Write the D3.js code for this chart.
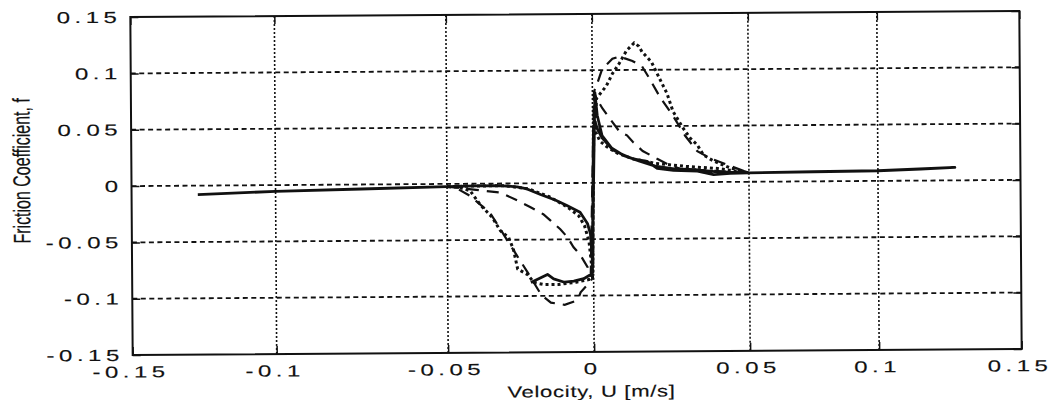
<!DOCTYPE html>
<html>
<head>
<meta charset="utf-8">
<script src="https://cdn.jsdelivr.net/npm/d3@7"></script>
<style>
  body { margin: 0; background: #fff; }
  svg text { font-family: "Liberation Sans", Arial, sans-serif; fill: #111; stroke: #111; stroke-width: 0.15px; }
</style>
</head>
<body>
<div id="chart"></div>
<script>
// ticks and labels
const xTicks = [-0.15, -0.1, -0.05, 0, 0.05, 0.1, 0.15];
const xTickLabels = ['-0.15', '-0.1', '-0.05', '0', '0.05', '0.1', '0.15'];
const yTicks = [-0.15, -0.1, -0.05, 0, 0.05, 0.1, 0.15];
const yTickLabels = ['-0.15', '-0.1', '-0.05', '0', '0.05', '0.1', '0.15'];
const xTitle = 'Velocity, U [m/s]';
const yTitle = 'Friction Coefficient, f';

// [U, f]
const solidLine = [
  [-0.127, -0.008], [-0.1, -0.0055], [-0.075, -0.004], [-0.05, -0.0025],
  [-0.04, -0.002], [-0.032, -0.0018], [-0.026, -0.003], [-0.0226, -0.005],
  [-0.018, -0.010], [-0.013, -0.015], [-0.009, -0.020], [-0.0045, -0.026],
  [-0.002, -0.036], [-0.001, -0.045], [-0.0006, -0.06], [-0.0003, -0.075],
  [0.0002, 0.04], [0.0006, 0.056], [0.0015, 0.048], [0.003, 0.04],
  [0.0065, 0.029], [0.0095, 0.025], [0.0129, 0.021], [0.0174, 0.0187],
  [0.0206, 0.0125], [0.0258, 0.0107], [0.0335, 0.0098], [0.0387, 0.0065],
  [0.044, 0.0075], [0.05, 0.008], [0.075, 0.0085], [0.1, 0.009],
  [0.115, 0.0102], [0.127, 0.0115], [0.1, 0.009], [0.075, 0.0085],
  [0.05, 0.008], [0.04, 0.009], [0.033, 0.011], [0.026, 0.012],
  [0.02, 0.0145], [0.015, 0.019], [0.01, 0.024], [0.006, 0.031],
  [0.003, 0.042], [0.0015, 0.06], [0.0008, 0.08], [-0.0005, -0.082],
  [-0.0014, -0.082], [-0.0034, -0.085], [-0.0068, -0.087], [-0.010, -0.088],
  [-0.0137, -0.085], [-0.0158, -0.081], [-0.019, -0.085], [-0.0215, -0.088]
];

const dashedLine = [
  [-0.05, -0.0025], [-0.045, -0.004], [-0.04, -0.0055], [-0.0318, -0.008],
  [-0.026, -0.015], [-0.0216, -0.021], [-0.0171, -0.0275], [-0.0147, -0.033],
  [-0.0113, -0.041], [-0.0089, -0.048], [-0.0068, -0.057], [-0.0045, -0.064],
  [-0.002, -0.075], [-0.001, -0.083], [0.0005, 0.081], [0.0013, 0.075],
  [0.0032, 0.066], [0.0055, 0.057], [0.0087, 0.045], [0.011, 0.042],
  [0.0129, 0.036], [0.016, 0.028], [0.0206, 0.021], [0.0248, 0.015],
  [0.028, 0.012], [0.0345, 0.0107], [0.044, 0.009], [0.05, 0.008],
  [0.0442, 0.014], [0.0377, 0.021], [0.0335, 0.0275], [0.0297, 0.041],
  [0.0258, 0.059], [0.0216, 0.076], [0.0184, 0.092], [0.016, 0.103],
  [0.0129, 0.108], [0.0087, 0.112], [0.0065, 0.110], [0.0032, 0.101],
  [0.0013, 0.086], [0.0005, 0.081], [-0.0005, -0.085], [-0.002, -0.09],
  [-0.0045, -0.097], [-0.0055, -0.104], [-0.010, -0.108], [-0.0147, -0.106],
  [-0.018, -0.099], [-0.0226, -0.079], [-0.0284, -0.055], [-0.0353, -0.026],
  [-0.042, -0.011], [-0.047, -0.0035], [-0.05, -0.0025]
];

const dottedLine = [
  [-0.05, -0.0025], [-0.04, -0.002], [-0.03, -0.002], [-0.022, -0.005],
  [-0.015, -0.012], [-0.009, -0.021], [-0.005, -0.029], [-0.003, -0.038],
  [-0.0015, -0.052], [-0.0008, -0.07], [-0.0003, -0.08], [0.0003, 0.045],
  [0.001, 0.06], [0.0013, 0.075], [0.0045, 0.086], [0.0065, 0.097],
  [0.0087, 0.106], [0.011, 0.117], [0.0135, 0.124], [0.015, 0.121],
  [0.016, 0.116], [0.019, 0.107], [0.0216, 0.092], [0.0239, 0.079],
  [0.0258, 0.063], [0.029, 0.048], [0.0313, 0.039], [0.0335, 0.033],
  [0.0355, 0.024], [0.0387, 0.0186], [0.044, 0.0124], [0.05, 0.008],
  [0.04, 0.012], [0.03, 0.014], [0.02, 0.017], [0.013, 0.021],
  [0.008, 0.026], [0.0045, 0.032], [0.0023, 0.037], [0.001, 0.045],
  [0.0004, 0.055], [-0.0004, -0.085], [-0.002, -0.086], [-0.006, -0.088],
  [-0.012, -0.09], [-0.017, -0.09], [-0.0205, -0.088], [-0.0226, -0.081],
  [-0.026, -0.076], [-0.0274, -0.0586], [-0.029, -0.048], [-0.0318, -0.042],
  [-0.0346, -0.03], [-0.0387, -0.0186], [-0.0421, -0.0062], [-0.046, -0.003],
  [-0.05, -0.0025]
];

let svg, g, x, y;
const width = 1058, height = 400;
// the scanned x axis is uneven, so pin the scale at every tick
const xTickPix = [131.5, 275.5, 447, 593, 749, 878, 1020.5];
const plotTop = 14, plotBottom = 352;
const inkColor = '#111';

function drawChart() {
    svg = d3.select('#chart').append('svg')
        .attr('width', width)
        .attr('height', height);

    // scan is slightly tilted
    g = svg.append('g').attr('transform', 'rotate(-0.4,576,183)');

    x = d3.scaleLinear().domain(xTicks).range(xTickPix);
    y = d3.scaleLinear().domain([-0.15, 0.15]).range([plotBottom, plotTop]);

    // grid
    g.append('g').attr('class', 'grid-x')
        .selectAll('line')
        .data(xTicks.slice(1, -1))
        .join('line')
        .attr('x1', d => x(d)).attr('x2', d => x(d))
        .attr('y1', y(-0.15)).attr('y2', y(0.15))
        .attr('stroke', inkColor)
        .attr('stroke-width', 1.6)
        .attr('stroke-dasharray', '2,2');

    g.append('g').attr('class', 'grid-y')
        .selectAll('line')
        .data(yTicks.slice(1, -1))
        .join('line')
        .attr('x1', x(-0.15)).attr('x2', x(0.15))
        .attr('y1', d => y(d)).attr('y2', d => y(d))
        .attr('stroke', inkColor)
        .attr('stroke-width', 1.8)
        .attr('stroke-dasharray', '5,3.5');

    const line = d3.line()
        .x(d => x(d[0]))
        .y(d => y(d[1]));

    g.append('path').datum(dottedLine)
        .attr('d', line)
        .attr('fill', 'none')
        .attr('stroke', inkColor)
        .attr('stroke-width', 3)
        .attr('stroke-dasharray', '3,3');

    g.append('path').datum(dashedLine)
        .attr('d', line)
        .attr('fill', 'none')
        .attr('stroke', inkColor)
        .attr('stroke-width', 2.2)
        .attr('stroke-dasharray', '12,8');

    g.append('path').datum(solidLine)
        .attr('d', line)
        .attr('fill', 'none')
        .attr('stroke', inkColor)
        .attr('stroke-width', 2.8)
        .attr('stroke-linejoin', 'round');

    // axes, ticks point inward
    const xAxis = g.append('g')
        .attr('transform', 'translate(0,' + y(-0.15) + ')')
        .call(d3.axisBottom(x).tickValues(xTicks)
            .tickFormat((d, i) => xTickLabels[i])
            .tickSizeInner(-8).tickSizeOuter(0).tickPadding(11));

    const yAxis = g.append('g')
        .attr('transform', 'translate(' + x(-0.15) + ',0)')
        .call(d3.axisLeft(y).tickValues(yTicks)
            .tickFormat((d, i) => yTickLabels[i])
            .tickSizeInner(-8).tickSizeOuter(0).tickPadding(6));

    g.append('g')
        .attr('transform', 'translate(0,' + y(0.15) + ')')
        .call(d3.axisTop(x).tickValues(xTicks).tickFormat('')
            .tickSizeInner(-8).tickSizeOuter(0));

    g.append('g')
        .attr('transform', 'translate(' + x(0.15) + ',0)')
        .call(d3.axisRight(y).tickValues(yTicks).tickFormat('')
            .tickSizeInner(-8).tickSizeOuter(0));

    g.selectAll('.domain').remove();
    g.selectAll('.tick line').attr('stroke', inkColor).attr('stroke-width', 1.5);

    [xAxis, yAxis].forEach(a => {
        a.attr('font-size', 16).attr('font-family', null);
        a.selectAll('text')
            .attr('fill', inkColor)
            .attr('letter-spacing', 3)
            .attr('transform', 'scale(1.5,1)');
    });
    xAxis.selectAll('text').attr('x', -1.5);

    g.append('rect')
        .attr('x', x(-0.15)).attr('y', y(0.15))
        .attr('width', x(0.15) - x(-0.15))
        .attr('height', y(-0.15) - y(0.15))
        .attr('fill', 'none')
        .attr('stroke', inkColor)
        .attr('stroke-width', 2);

    // titles
    g.append('text')
        .attr('transform', 'translate(590,397) scale(1.38,1)')
        .attr('text-anchor', 'middle')
        .attr('font-size', 16)
        .attr('letter-spacing', 0.5)
        .text(xTitle);

    g.append('text')
        .attr('transform', 'translate(30,167) scale(1.5,1) rotate(-90)')
        .attr('text-anchor', 'middle')
        .attr('font-size', 16)
        .text(yTitle);
}

drawChart();
</script>
</body>
</html>
